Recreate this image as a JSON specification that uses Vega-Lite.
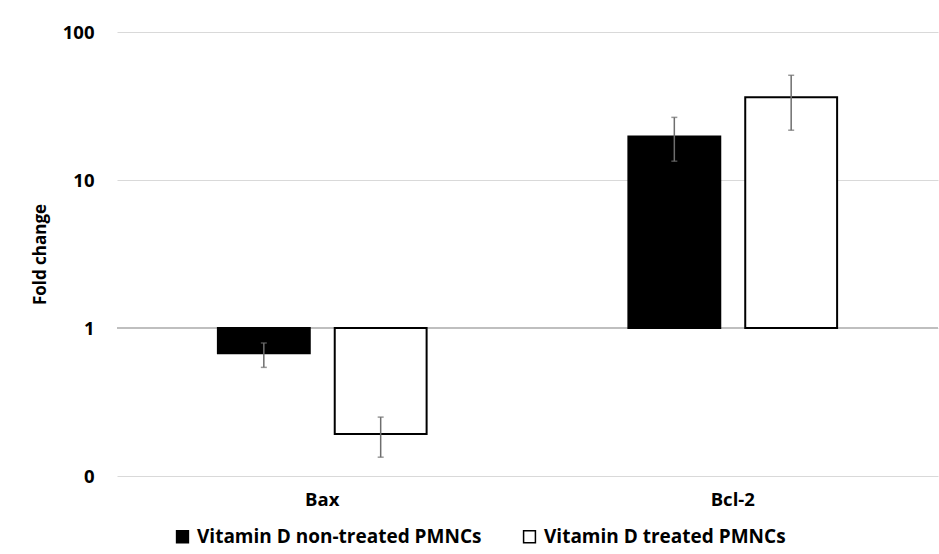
{
  "$schema": "https://vega.github.io/schema/vega-lite/v6.json",
  "width": 821,
  "height": 444,
  "autosize": {"type": "none"},
  "padding": {"left": 117, "top": 32, "right": 1, "bottom": 78},
  "background": "white",
  "config": {
    "font": "Open Sans",
    "view": {"stroke": null},
    "axis": {"labelFont": "Open Sans", "titleFont": "Open Sans", "labelColor": "black", "titleColor": "black"}
  },
  "data": {
    "values": [
      {"gene": "Bax", "group": "Vitamin D non-treated PMNCs", "value": 0.675, "lo": 0.542, "hi": 0.792},
      {"gene": "Bax", "group": "Vitamin D treated PMNCs", "value": 0.192, "lo": 0.134, "hi": 0.25},
      {"gene": "Bcl-2", "group": "Vitamin D non-treated PMNCs", "value": 19.7, "lo": 13.4, "hi": 26.5},
      {"gene": "Bcl-2", "group": "Vitamin D treated PMNCs", "value": 36.2, "lo": 21.7, "hi": 51.0}
    ]
  },
  "encoding": {
    "x": {
      "field": "gene", "type": "nominal", "sort": ["Bax", "Bcl-2"],
      "scale": {"paddingInner": 0, "paddingOuter": 0},
      "axis": {"title": null, "labelAngle": 0, "domain": false, "ticks": false, "tickSize": 0, "labelPadding": 14, "labelFontSize": 18.5, "labelFontWeight": "bold", "grid": false}
    },
    "xOffset": {
      "field": "group", "type": "nominal",
      "sort": ["Vitamin D non-treated PMNCs", "Vitamin D treated PMNCs"],
      "scale": {"paddingInner": 0.2137, "paddingOuter": 0.8634}
    }
  },
  "layer": [
    {
      "mark": {"type": "rule", "color": "#bfbfbf", "strokeWidth": 1.5},
      "encoding": {"y": {"datum": 1, "type": "quantitative"}, "x": null, "xOffset": null}
    },
    {
      "mark": {"type": "bar", "stroke": "black", "strokeWidth": 2},
      "encoding": {
        "y": {
          "field": "value", "type": "quantitative",
          "scale": {"type": "log", "domain": [0.1, 100]},
          "axis": {
            "title": "Fold change", "titleFontSize": 17, "titleFontWeight": "bold", "titlePadding": 13,
            "values": [0.1, 1, 10, 100],
            "labelExpr": "datum.value < 1 ? '0' : format(datum.value, 'd')",
            "labelFontSize": 18.5, "labelFontWeight": "bold", "labelPadding": 23,
            "domain": false, "ticks": false, "tickSize": 0,
            "grid": true, "gridColor": "#d9d9d9", "gridWidth": 1
          }
        },
        "y2": {"datum": 1},
        "fill": {
          "field": "group", "type": "nominal",
          "sort": ["Vitamin D non-treated PMNCs", "Vitamin D treated PMNCs"],
          "scale": {"range": ["black", "white"]},
          "legend": {
            "title": null, "orient": "none", "direction": "horizontal",
            "legendX": 56, "legendY": 495,
            "symbolType": "square", "symbolSize": 140, "symbolStrokeColor": "black", "symbolStrokeWidth": 1.5,
            "labelFontSize": 19, "labelFontWeight": "bold", "labelColor": "black", "labelFont": "Open Sans",
            "labelOffset": 5, "columnPadding": 38, "labelLimit": 400
          }
        }
      }
    },
    {
      "mark": {"type": "rule", "color": "#6e6e6e", "strokeWidth": 1.5},
      "encoding": {
        "y": {"field": "lo", "type": "quantitative"},
        "y2": {"field": "hi"}
      }
    },
    {
      "mark": {"type": "tick", "color": "#6e6e6e", "thickness": 1.5, "size": 6, "orient": "horizontal"},
      "encoding": {"y": {"field": "lo", "type": "quantitative"}}
    },
    {
      "mark": {"type": "tick", "color": "#6e6e6e", "thickness": 1.5, "size": 6, "orient": "horizontal"},
      "encoding": {"y": {"field": "hi", "type": "quantitative"}}
    }
  ]
}
